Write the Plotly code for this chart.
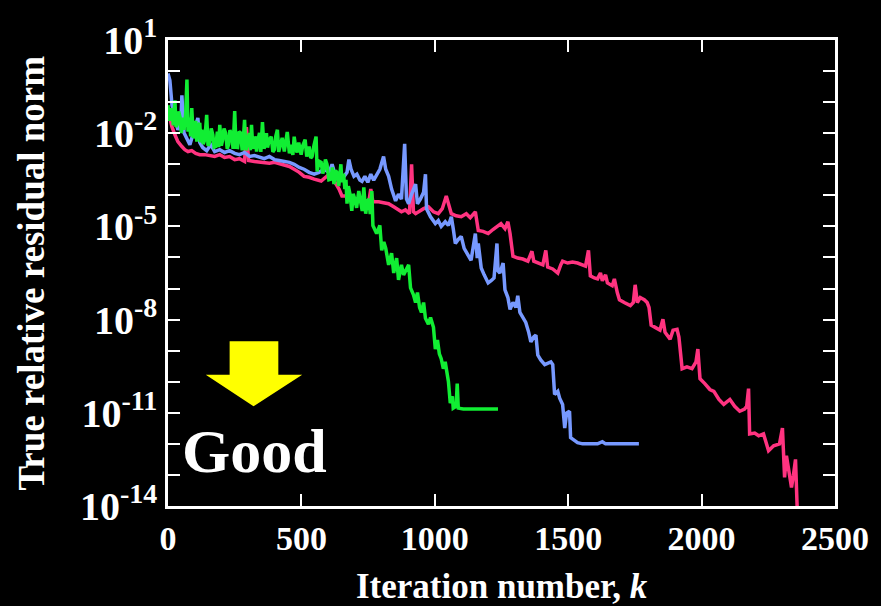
import plotly.graph_objects as go

# ---------------- data (iteration k, log10 of true relative residual norm) ----------------
pink_k = [0, 7, 15, 26, 37, 52, 63, 75, 89, 104, 119, 138, 156, 175, 194, 212, 231, 250, 268, 287,
          294, 302, 324, 343, 361, 380, 399, 425, 455, 473, 492, 510, 529, 548, 574, 604, 615, 626,
          641, 652, 671, 686, 704, 723, 738, 753, 760, 768, 790, 808, 827, 846, 864, 875, 890, 905,
          913, 920, 928, 939, 958, 976, 995, 1013, 1028, 1043, 1051, 1062, 1080, 1099, 1118, 1133,
          1152, 1163, 1181, 1200, 1218, 1237, 1248, 1263, 1274, 1282, 1286, 1293, 1311, 1330, 1349,
          1364, 1371, 1386, 1405, 1416, 1423, 1442, 1453, 1461, 1472, 1479, 1498, 1516, 1535, 1554,
          1565, 1576, 1583, 1598, 1610, 1621, 1628, 1640, 1647, 1665, 1673, 1684, 1692, 1710, 1733,
          1744, 1751, 1759, 1770, 1785, 1796, 1803, 1811, 1826, 1844, 1855, 1863, 1882, 1893, 1908,
          1915, 1927, 1945, 1964, 1979, 1986, 1994, 2012, 2031, 2046, 2065, 2083, 2106, 2124, 2143,
          2161, 2169, 2176, 2180, 2199, 2214, 2232, 2251, 2270, 2292, 2303, 2311, 2318, 2326, 2337,
          2344, 2352, 2358]
pink_log = [-1.26, -1.57, -1.80, -2.05, -2.27, -2.43, -2.53, -2.59, -2.56, -2.65, -2.69, -2.69, -2.72,
            -2.75, -2.69, -2.78, -2.75, -2.85, -2.82, -2.91, -1.80, -2.88, -2.91, -2.94, -2.94, -2.97,
            -2.94, -3.00, -3.07, -3.16, -3.26, -3.39, -3.42, -3.48, -3.54, -3.32, -3.10, -3.58, -3.80,
            -4.02, -4.02, -4.08, -4.12, -4.15, -4.18, -4.18, -3.80, -4.21, -4.21, -4.24, -4.27, -4.37,
            -4.47, -4.53, -4.47, -4.59, -3.00, -4.53, -4.59, -4.53, -4.43, -4.37, -4.53, -4.59, -4.43,
            -4.02, -4.27, -4.59, -4.66, -4.69, -4.59, -4.72, -4.53, -5.13, -5.16, -5.23, -5.10, -4.97,
            -4.91, -5.07, -4.85, -5.23, -5.55, -5.96, -6.02, -6.05, -6.12, -5.80, -6.12, -6.18, -6.24,
            -5.77, -6.31, -6.37, -6.43, -6.50, -6.24, -6.12, -6.18, -6.15, -6.18, -6.24, -6.28, -5.77,
            -6.59, -6.66, -6.69, -6.50, -6.75, -6.56, -6.82, -6.91, -6.69, -7.13, -7.36, -7.45, -7.55,
            -7.45, -6.88, -7.45, -7.29, -7.36, -7.45, -7.61, -8.18, -8.25, -8.34, -7.99, -8.41, -8.63,
            -8.34, -8.31, -8.56, -9.58, -9.52, -9.58, -9.36, -8.95, -9.90, -10.06, -10.25, -10.31,
            -10.57, -10.73, -10.57, -10.79, -10.95, -10.88, -10.79, -10.22, -11.68, -11.65, -11.74,
            -11.68, -12.22, -12.06, -12.00, -11.49, -13.08, -12.38, -12.85, -13.40, -13.02, -12.50,
            -14.00]

blue_k = [0, 7, 15, 26, 37, 48, 52, 60, 71, 82, 93, 112, 119, 130, 145, 160, 175, 194, 212, 231, 250,
          268, 287, 306, 324, 343, 361, 380, 399, 417, 436, 455, 473, 492, 510, 529, 548, 566, 585,
          604, 615, 626, 641, 660, 671, 678, 686, 697, 708, 719, 727, 738, 749, 760, 771, 782, 794,
          808, 816, 827, 838, 853, 864, 875, 887, 894, 902, 913, 928, 935, 946, 958, 965, 969, 984,
          1002, 1013, 1024, 1039, 1051, 1062, 1069, 1077, 1088, 1099, 1110, 1125, 1136, 1152, 1159,
          1163, 1174, 1185, 1200, 1211, 1222, 1233, 1237, 1244, 1256, 1263, 1274, 1282, 1293, 1304,
          1311, 1319, 1330, 1341, 1352, 1360, 1371, 1379, 1386, 1397, 1412, 1423, 1435, 1442, 1449,
          1461, 1468, 1479, 1487, 1494, 1505, 1509, 1524, 1535, 1554, 1610, 1628, 1640, 1765]
blue_log = [-0.08, -0.30, -1.10, -1.48, -1.89, -1.67, -0.78, -1.99, -2.21, -2.37, -2.05, -1.51, -2.30,
            -2.46, -2.56, -2.37, -2.59, -2.53, -2.62, -2.56, -2.65, -2.69, -2.62, -2.75, -2.72, -2.78,
            -2.82, -2.75, -2.85, -2.88, -2.91, -2.94, -3.00, -3.10, -3.16, -3.26, -3.32, -3.26, -3.16,
            -3.26, -3.00, -3.32, -3.48, -3.39, -3.26, -2.85, -3.16, -3.39, -3.32, -3.51, -3.55, -3.39,
            -3.58, -3.32, -3.51, -3.32, -3.16, -2.75, -3.16, -3.39, -3.80, -4.18, -3.96, -4.12, -2.34,
            -4.12, -4.27, -3.96, -3.64, -4.27, -4.12, -3.90, -3.32, -4.43, -4.69, -4.91, -4.81, -5.00,
            -4.85, -4.97, -4.69, -5.07, -5.55, -5.42, -5.32, -5.71, -5.96, -6.09, -5.23, -6.02, -5.55,
            -6.34, -6.56, -6.82, -6.75, -6.66, -5.55, -6.43, -6.50, -6.18, -7.04, -7.29, -7.67, -7.45,
            -7.61, -7.23, -7.77, -7.93, -8.09, -8.41, -8.72, -8.56, -8.50, -9.14, -9.30, -9.45, -9.42,
            -9.36, -9.45, -10.41, -10.31, -10.53, -10.73, -11.49, -11.01, -10.95, -11.80, -11.90,
            -11.96, -12.00, -12.00, -11.93, -12.00, -12.00]

green_k = [0, 5, 10, 15, 20, 26, 30, 34, 40, 45, 50, 55, 60, 66, 71, 75, 80, 85, 89, 95, 101, 104,
           108, 113, 119, 123, 127, 132, 138, 141, 145, 150, 156, 162, 168, 173, 179, 185, 190, 194,
           200, 205, 210, 216, 222, 227, 232, 238, 244, 250, 255, 261, 266, 272, 278, 283, 287, 292,
           298, 305, 309, 313, 318, 324, 328, 332, 338, 343, 348, 354, 360, 365, 369, 373, 380, 387,
           393, 399, 404, 410, 415, 421, 428, 436, 441, 447, 455, 462, 468, 473, 479, 484, 490, 499,
           505, 514, 520, 529, 535, 540, 547, 555, 559, 566, 574, 580, 585, 590, 596, 603, 611, 616,
           622, 628, 633, 640, 648, 652, 658, 663, 667, 671, 676, 682, 689, 694, 700, 707, 715, 723,
           728, 734, 741, 747, 753, 758, 764, 768, 782, 794, 801, 809, 816, 827, 838, 846, 857, 864,
           875, 883, 894, 902, 909, 920, 928, 935, 943, 950, 958, 965, 976, 984, 995, 1002, 1010,
           1017, 1024, 1032, 1039, 1051, 1058, 1066, 1069, 1080, 1084, 1088, 1107, 1162, 1237]
green_log = [-1.10, -1.60, -1.20, -1.32, -1.75, -0.94, -1.80, -1.73, -1.30, -1.48, -2.00, -1.50, -1.89,
             -1.40, -0.27, -1.95, -1.50, -2.10, -1.19, -2.15, -2.05, -1.60, -2.27, -1.80, -1.67, -2.30,
             -1.89, -2.35, -2.21, -1.75, -1.41, -2.40, -2.30, -1.85, -2.05, -2.45, -2.43, -1.95, -2.45,
             -1.73, -2.40, -2.21, -1.85, -1.99, -2.50, -2.37, -1.90, -2.05, -2.50, -1.29, -2.45, -2.46,
             -1.95, -1.99, -2.55, -2.10, -1.57, -2.55, -2.30, -2.00, -2.55, -1.73, -2.50, -2.37, -2.10,
             -2.59, -2.20, -1.99, -2.60, -1.64, -2.50, -2.37, -2.00, -2.46, -2.20, -2.11, -2.60, -2.53,
             -2.10, -1.89, -2.60, -2.43, -2.15, -2.59, -2.20, -1.96, -2.65, -2.37, -2.70, -2.11, -2.50,
             -2.62, -2.30, -2.69, -2.40, -2.21, -2.75, -2.43, -2.80, -2.75, -2.40, -2.11, -3.23, -2.90,
             -2.94, -3.30, -3.16, -2.85, -3.00, -3.50, -3.48, -3.10, -3.64, -3.20, -3.26, -3.70, -3.00,
             -3.58, -3.30, -3.80, -3.50, -4.27, -3.70, -3.96, -4.50, -3.95, -4.12, -4.40, -3.86, -4.27,
             -4.50, -3.74, -4.59, -4.20, -4.12, -4.60, -3.86, -4.97, -5.23, -4.97, -5.77, -5.50, -5.70,
             -6.24, -5.86, -6.50, -6.02, -6.72, -6.24, -6.56, -6.37, -6.24, -6.98, -7.20, -7.45, -7.13,
             -7.61, -7.77, -7.45, -7.96, -8.15, -7.93, -8.25, -8.95, -8.66, -9.10, -9.26, -9.58, -9.36,
             -9.99, -10.69, -10.47, -10.85, -10.79, -10.06, -10.85, -10.88, -10.88, -10.88]

x_ticks = [0, 500, 1000, 1500, 2000, 2500]
y_decades = list(range(-14, 2))
y_labelled = [1, -2, -5, -8, -11, -14]

# ---------------- figure ----------------
FONT = "Liberation Serif, Times New Roman, serif"
fig = go.Figure()

series = [
    (pink_k, pink_log, "#ff3380"),
    (blue_k, blue_log, "#7799ff"),
    (green_k, green_log, "#11ee33"),
]
for ks, logs, col in series:
    fig.add_trace(go.Scatter(
        x=ks, y=[10 ** v for v in logs], mode="lines",
        line=dict(color=col, width=3.5), showlegend=False, hoverinfo="skip"))

fig.update_layout(
    width=881, height=606,
    paper_bgcolor="black", plot_bgcolor="black",
    margin=dict(l=168, r=42, t=34, b=100),
    font=dict(family=FONT, color="white", weight="bold"),
)

fig.update_xaxes(
    range=[0, 2500], tickvals=x_ticks, ticktext=[str(v) for v in x_ticks],
    showgrid=False, zeroline=False,
    showline=True, linecolor="white", linewidth=2.5, mirror="allticks",
    ticks="inside", ticklen=12, tickwidth=2, tickcolor="white",
    tickfont=dict(family=FONT, size=34, color="white", weight="bold"),
)
fig.update_yaxes(
    type="log", range=[-14, 1],
    tickvals=[10 ** e for e in y_decades],
    ticktext=[("10<sup>%d</sup>" % e) if e in y_labelled else "" for e in y_decades],
    showgrid=False, zeroline=False,
    showline=True, linecolor="white", linewidth=2.5, mirror="allticks",
    ticks="inside", ticklen=12, tickwidth=2, tickcolor="white",
    tickfont=dict(family=FONT, size=40, color="white", weight="bold"),
)

# axis titles
fig.add_annotation(text="Iteration number, <i>k</i>", xref="paper", yref="paper",
                   x=0.5, y=-0.172, xanchor="center", yanchor="middle", showarrow=False,
                   font=dict(family=FONT, size=35, color="white", weight="bold"))
fig.add_annotation(text="True relative residual norm", xref="paper", yref="paper",
                   x=-0.206, y=0.5, xanchor="center", yanchor="middle", textangle=-90,
                   showarrow=False,
                   font=dict(family=FONT, size=37, color="white", weight="bold"))

# "Good" label and yellow arrow
fig.add_annotation(text="Good", xref="paper", yref="paper", x=0.1297, y=0.118,
                   xanchor="center", yanchor="middle", showarrow=False,
                   font=dict(family=FONT, size=62, color="white", weight="bold"))
fig.add_shape(type="path", xref="paper", yref="paper",
              path="M 0.0924 0.3538 L 0.1654 0.3538 L 0.1654 0.2818 L 0.2012 0.2818 "
                   "L 0.1282 0.2140 L 0.0566 0.2818 L 0.0924 0.2818 Z",
              fillcolor="#ffff00", line=dict(width=0), layer="above")

fig.write_html("out.html")
